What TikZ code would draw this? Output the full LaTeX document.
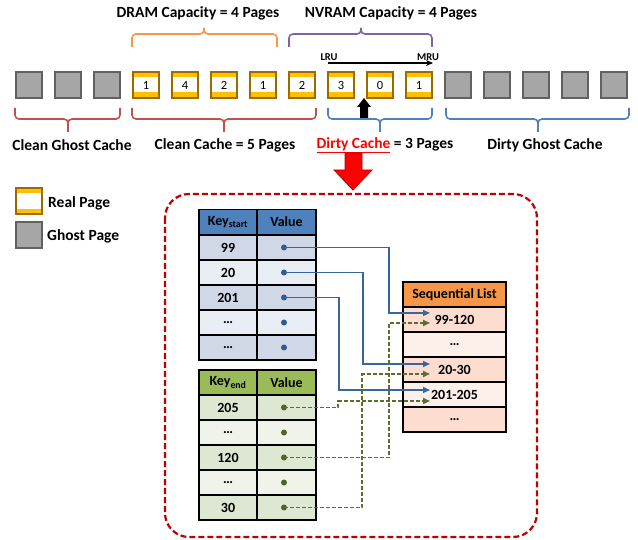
\documentclass[tikz,border=0pt]{standalone}
\usepackage{fontspec}
\setmainfont{Carlito}
\usetikzlibrary{arrows.meta}
\definecolor{gold}{HTML}{FFC000}
\definecolor{goldb}{HTML}{9C6B00}
\definecolor{ghostf}{HTML}{A6A6A6}
\definecolor{ghostb}{HTML}{616161}
\definecolor{braceo}{HTML}{F79646}
\definecolor{bracep}{HTML}{8064A2}
\definecolor{bracer}{HTML}{C0504D}
\definecolor{braceb}{HTML}{4F81BD}
\definecolor{boxred}{HTML}{C00000}
\definecolor{kshead}{HTML}{4F81BD}
\definecolor{ksdark}{HTML}{D0D8E8}
\definecolor{kslight}{HTML}{E9EDF4}
\definecolor{kehead}{HTML}{9BBB59}
\definecolor{kedark}{HTML}{DEE7D1}
\definecolor{kelight}{HTML}{EFF3EA}
\definecolor{slhead}{HTML}{F79646}
\definecolor{sldark}{HTML}{FCDDCF}
\definecolor{sllight}{HTML}{FDEFEA}
\definecolor{blueln}{HTML}{3A66A0}
\definecolor{greenln}{HTML}{5A6E2E}
\definecolor{bluedot}{HTML}{2F5B93}
\definecolor{greendot}{HTML}{4F6228}
\tikzset{
  realpage/.style={draw=goldb, line width=2, fill=gold, minimum size=26, inner sep=0,
    font=\fontsize{12.5}{12.5}\selectfont,
    path picture={\fill[white] ([yshift=-5]path picture bounding box.north west) rectangle ([yshift=5.5]path picture bounding box.south east);}},
  ghostpage/.style={draw=ghostb, line width=2, fill=ghostf, minimum size=26, inner sep=0},
  lbl/.style={font=\fontsize{15.5}{16}\selectfont\bfseries, inner sep=0},
  smalllbl/.style={font=\fontsize{10.5}{10.5}\selectfont\bfseries, inner sep=0},
  cellkey/.style={draw=black, line width=1.2, minimum width=58, minimum height=25, inner sep=0, font=\fontsize{14}{14}\selectfont\bfseries},
  cellval/.style={draw=black, line width=1.2, minimum width=59, minimum height=25, inner sep=0, font=\fontsize{14}{14}\selectfont\bfseries},
  cellseq/.style={draw=black, line width=1.2, minimum width=103, minimum height=25, inner sep=0, font=\fontsize{14}{14}\selectfont\bfseries},
  bdot/.style={circle, fill=bluedot, inner sep=0, minimum size=6},
  gdot/.style={circle, fill=greendot, inner sep=0, minimum size=6},
  bconn/.style={draw=blueln, line width=1.4, -{Triangle[length=7,width=6]}},
  gconn/.style={draw=greenln, line width=1.6, dash pattern=on 4 off 2, -{Triangle[length=7,width=6]}},
  bracestyle/.style={line width=1.6, rounded corners=4},
}
\begin{document}
\begin{tikzpicture}[x=1pt,y=-1pt]
\useasboundingbox (0,0) rectangle (638,540);

% top row of pages
\foreach \i in {0,1,2}{
  \node[ghostpage] (g\i) at ({29+39*\i},85) {};
}
\foreach \i/\t in {3/1,4/4,5/2,6/1,7/2,8/3,9/0,10/1}{
  \node[realpage] (r\i) at ({29+39*\i},85) {\t};
}
\foreach \i in {11,12,13,14,15}{
  \node[ghostpage] (g\i) at ({29+39*\i},85) {};
}

% top braces
\draw[bracestyle, braceo] (132,47) -- (132,34) -- (204,34) -- (204,28);
\draw[bracestyle, braceo] (277,47) -- (277,34) -- (204,34) -- (204,28);
\draw[bracestyle, bracep] (289,47) -- (289,34) -- (361,34) -- (361,28);
\draw[bracestyle, bracep] (432,47) -- (432,34) -- (361,34) -- (361,28);
\node[lbl] (dram) at (198,13) {DRAM Capacity = 4 Pages};
\node[lbl] (nvram) at (391,13) {NVRAM Capacity = 4 Pages};

% LRU -> MRU
\node[smalllbl] (lru) at (329,57) {LRU};
\node[smalllbl] (mru) at (428,57) {MRU};
\coordinate (lrua) at (328,63);
\coordinate (mrua) at (433,63);
\draw[line width=1.1, -{Stealth[length=7,width=6]}] (lrua) -- (mrua);

% black up arrow
\fill[black] (364,98) -- (371,107) -- (368,107) -- (368,118) -- (360,118) -- (360,107) -- (357,107) -- cycle;

% bottom braces
\draw[bracestyle, bracer] (15,108) -- (15,119) -- (68,119) -- (68,132);
\draw[bracestyle, bracer] (120,108) -- (120,119) -- (68,119) -- (68,132);
\draw[bracestyle, bracer] (132,108) -- (132,119) -- (224,119) -- (224,132);
\draw[bracestyle, bracer] (316,108) -- (316,119) -- (224,119) -- (224,132);
\draw[bracestyle, braceb] (328,108) -- (328,119) -- (380,119) -- (380,132);
\draw[bracestyle, braceb] (432,108) -- (432,119) -- (380,119) -- (380,132);
\draw[bracestyle, braceb] (446,108) -- (446,119) -- (538,119) -- (538,132);
\draw[bracestyle, braceb] (629,108) -- (629,119) -- (538,119) -- (538,132);

\node[lbl] (cgc) at (72,145) {Clean Ghost Cache};
\node[lbl] (cc) at (225,145) {Clean Cache = 5 Pages};
\node[lbl] (dc) at (385,145) {\textcolor{red}{\underline{Dirty Cache}} = 3 Pages};
\node[lbl] (dgc) at (545,145) {Dirty Ghost Cache};

% red down arrow
\filldraw[fill=red, draw=boxred, line width=0.8] (345,153) -- (362,153) -- (362,170) -- (372,170) -- (353,190) -- (334,170) -- (345,170) -- cycle;

% legend
\node[realpage] (legr) at (29,201.5) {};
\node[lbl, anchor=west] (legrt) at (48,203) {Real Page};
\node[ghostpage] (legg) at (29,235.5) {};
\node[lbl, anchor=west] (leggt) at (47,236) {Ghost Page};

% dashed container
\draw[boxred, line width=2.2, dash pattern=on 6 off 3, rounded corners=24] (165,194) rectangle (537,537);

% Key start table
\node[cellkey, fill=kshead] (ksh1) at (228,222) {Key\textsubscript{start}};
\node[cellval, fill=kshead] (ksh2) at (286.5,222) {Value};
\foreach \r/\k/\f in {1/99/ksdark,2/20/kslight,3/201/ksdark,4/…/kslight,5/…/ksdark}{
  \node[cellkey, fill=\f] (ksk\r) at (228,{235+25*\r-12.5}) {\k};
  \node[cellval, fill=\f] (ksv\r) at (286.5,{235+25*\r-12.5}) {};
  \node[bdot] (ksd\r) at (284,{235+25*\r-12.5}) {};
}

% Key end table
\node[cellkey, fill=kehead] (keh1) at (228,382.5) {Key\textsubscript{end}};
\node[cellval, fill=kehead] (keh2) at (286.5,382.5) {Value};
\foreach \r/\k/\f in {1/205/kedark,2/…/kelight,3/120/kedark,4/…/kelight,5/30/kedark}{
  \node[cellkey, fill=\f] (kek\r) at (228,{395+25*\r-12.5}) {\k};
  \node[cellval, fill=\f] (kev\r) at (286.5,{395+25*\r-12.5}) {};
  \node[gdot] (ked\r) at (284,{395+25*\r-12.5}) {};
}

% Sequential list
\node[cellseq, fill=slhead] (slh) at (454.5,294.5) {Sequential List};
\foreach \r/\k/\f in {1/99-120/sldark,2/…/sllight,3/20-30/sldark,4/201-205/sllight,5/…/sldark}{
  \node[cellseq, fill=\f] (sl\r) at (454.5,{307+25*\r-12.5}) {\k};
}

% connector targets
\coordinate (tb1) at (430,313);
\coordinate (tb2) at (430,364);
\coordinate (tb3) at (430,390);
\coordinate (tg1) at (430,401);
\coordinate (tg3) at (430,323);
\coordinate (tg5) at (430,374);
\coordinate (jb1) at (389,313);
\coordinate (jb2) at (363,364);
\coordinate (jb3) at (339,390);
\coordinate (jg1) at (338,401);
\coordinate (jg3) at (389,323);
\coordinate (jg5) at (362,374);

\draw[bconn] (ksd1.center) -| (jb1) -- (tb1);
\draw[bconn] (ksd2.center) -| (jb2) -- (tb2);
\draw[bconn] (ksd3.center) -| (jb3) -- (tb3);
\draw[gconn] (ked1.center) -| (jg1) -- (tg1);
\draw[gconn] (ked3.center) -| (jg3) -- (tg3);
\draw[gconn] (ked5.center) -| (jg5) -- (tg5);
\end{tikzpicture}
\end{document}
